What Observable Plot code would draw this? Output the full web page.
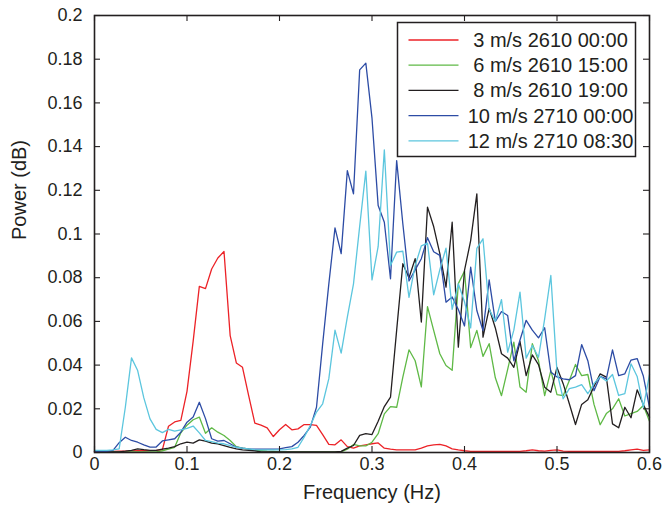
<!DOCTYPE html>
<html>
<head>
<meta charset="utf-8">
<script src="https://cdn.jsdelivr.net/npm/d3@7"></script>
<script src="https://cdn.jsdelivr.net/npm/@observablehq/plot@0.6"></script>
<style>
  html, body { margin: 0; padding: 0; background: #fff; }
  #chart { position: relative; width: 666px; height: 511px; }
</style>
</head>
<body>
<div id="chart"></div>
<script>
// Frequency bins (Hz): 0 .. 0.6 in steps of 1/150
const binCount = 91;
const binStep = 1 / 150;

const seriesNames = [
  "3 m/s 2610 00:00",
  "6 m/s 2610 15:00",
  "8 m/s 2610 19:00",
  "10 m/s 2710 00:00",
  "12 m/s 2710 08:30"
];
const seriesColors = ["#ec2227", "#5fb946", "#231f20", "#2d4ca5", "#5cc6de"];

const power3 = [
  0.0005,0.0005,0.0005,0.0005,0.0006,0.0006,0.0007,0.0008,0.0008,0.0009,
  0.001,0.0012,0.012,0.014,0.0147,0.028,0.051,0.076,0.075,0.084,
  0.089,0.092,0.0535,0.041,0.039,0.026,0.0134,0.0125,0.0113,0.0073,
  0.0104,0.0128,0.0104,0.0108,0.0128,0.0128,0.0124,0.0082,0.0037,0.0035,
  0.0058,0.0027,0.002,0.003,0.0035,0.004,0.0044,0.002,0.0015,0.0012,
  0.0012,0.0012,0.0012,0.002,0.003,0.0035,0.0037,0.003,0.0017,0.0012,
  0.0008,0.0005,0.0005,0.0005,0.0005,0.0005,0.0005,0.0005,0.0005,0.0005,
  0.0008,0.0012,0.0008,0.0006,0.001,0.0012,0.0006,0.0005,0.0005,0.0005,
  0.0005,0.0005,0.0005,0.0005,0.0005,0.0005,0.0008,0.0012,0.0015,0.001,
  0.0012
];
const power6 = [
  0.0003,0.0003,0.0003,0.0003,0.0003,0.0003,0.0003,0.0003,0.0003,0.0003,
  0.0003,0.0008,0.0015,0.0024,0.009,0.0125,0.015,0.0162,0.0088,0.0113,
  0.0093,0.0078,0.0055,0.0027,0.002,0.0015,0.001,0.0008,0.0006,0.0005,
  0.0003,0.0003,0.0003,0.0003,0.0003,0.0003,0.0003,0.0003,0.0003,0.0003,
  0.0003,0.0015,0.0037,0.003,0.003,0.0047,0.0086,0.0177,0.021,0.0207,
  0.0345,0.047,0.042,0.030,0.0668,0.0559,0.0452,0.0398,0.0376,0.0773,
  0.083,0.048,0.0559,0.044,0.0498,0.0342,0.026,0.038,0.0505,0.030,
  0.0276,0.0498,0.042,0.026,0.0375,0.0265,0.026,0.033,0.0403,0.0352,
  0.0357,0.022,0.0127,0.0178,0.020,0.0246,0.0167,0.0178,0.0188,0.0215,
  0.0143
];
const power8 = [
  0.0003,0.0003,0.0003,0.0003,0.0003,0.0006,0.001,0.0017,0.0013,0.001,
  0.001,0.0015,0.002,0.0027,0.004,0.0047,0.0043,0.0058,0.0052,0.0043,
  0.004,0.0032,0.0024,0.0017,0.0012,0.001,0.0008,0.0003,0.0003,0.0003,
  0.0003,0.0003,0.0003,0.0003,0.0003,0.0003,0.0003,0.0003,0.0003,0.0003,
  0.0005,0.002,0.0032,0.0078,0.0086,0.0082,0.0143,0.021,0.0253,0.056,
  0.0864,0.080,0.0887,0.0597,0.1123,0.1034,0.091,0.0757,0.1054,0.0482,
  0.0833,0.097,0.1184,0.0528,0.066,0.057,0.0452,0.0432,0.039,0.0508,
  0.0352,0.0447,0.0402,0.0299,0.0276,0.0389,0.0315,0.0223,0.0128,0.022,
  0.0241,0.0302,0.036,0.0345,0.0131,0.0113,0.0207,0.0159,0.0287,0.022,
  0.0162
];
const power10 = [
  0.0005,0.0005,0.0005,0.001,0.0045,0.007,0.0055,0.0047,0.0035,0.0025,
  0.0025,0.0053,0.0058,0.0063,0.0093,0.0139,0.0162,0.023,0.0155,0.0063,
  0.0052,0.0055,0.004,0.0024,0.002,0.0017,0.0015,0.0015,0.0015,0.0015,
  0.0017,0.0022,0.0027,0.0047,0.0078,0.0116,0.0207,0.0497,0.0772,0.1028,
  0.091,0.129,0.1184,0.1751,0.1782,0.153,0.113,0.1054,0.0795,0.1336,
  0.1047,0.0785,0.0836,0.0887,0.0983,0.0919,0.0902,0.0688,0.0712,0.0654,
  0.0579,0.0848,0.065,0.0558,0.079,0.06,0.0645,0.0627,0.042,0.0515,
  0.0605,0.056,0.0525,0.0571,0.0368,0.0346,0.0337,0.0333,0.0352,0.0494,
  0.042,0.0283,0.0348,0.0337,0.047,0.0352,0.036,0.0423,0.043,0.035,
  0.0207
];
const power12 = [
  0.001,0.001,0.001,0.0012,0.0017,0.0207,0.0433,0.0375,0.025,0.0154,
  0.0106,0.0091,0.0106,0.0098,0.0104,0.011,0.0121,0.009,0.0055,0.005,
  0.0043,0.004,0.0032,0.0024,0.002,0.0017,0.0013,0.0012,0.0012,0.0012,
  0.0012,0.0013,0.0017,0.0024,0.007,0.0124,0.0185,0.0223,0.0338,0.056,
  0.0455,0.062,0.0772,0.1035,0.1288,0.079,0.0943,0.1385,0.0856,0.0917,
  0.0921,0.071,0.0856,0.0946,0.0958,0.0722,0.0837,0.0935,0.0655,0.0772,
  0.069,0.057,0.0934,0.0978,0.0655,0.06,0.07,0.0459,0.056,0.0734,
  0.0432,0.049,0.0436,0.0612,0.081,0.0368,0.0246,0.0292,0.0299,0.0311,
  0.0269,0.0315,0.0348,0.0327,0.0357,0.0261,0.0269,0.0406,0.0348,0.0207,
  0.0357
];

const xTicks = [0, 0.1, 0.2, 0.3, 0.4, 0.5, 0.6];
const xTickLabels = ["0", "0.1", "0.2", "0.3", "0.4", "0.5", "0.6"];
const yTicks = [0, 0.02, 0.04, 0.06, 0.08, 0.1, 0.12, 0.14, 0.16, 0.18, 0.2];
const yTickLabels = ["0", "0.02", "0.04", "0.06", "0.08", "0.1", "0.12", "0.14", "0.16", "0.18", "0.2"];
const xLabel = "Frequency (Hz)";
const yLabel = "Power (dB)";

const allSeries = [power3, power6, power8, power10, power12];
const rows = [];
allSeries.forEach((vals, s) => {
  vals.forEach((v, i) => rows.push({series: seriesNames[s], f: i * binStep, p: v}));
});

const ink = "#231f20";
const fontFamily = "'Liberation Sans', Arial, Helvetica, sans-serif";
const W = 666, H = 511, mL = 94, mR = 17, mT = 15, mB = 59;
const plotW = W - mL - mR, plotH = H - mT - mB;
const tickLen = 6;

const svg = Plot.plot({
  width: W,
  height: H,
  marginLeft: mL,
  marginRight: mR,
  marginTop: mT,
  marginBottom: mB,
  style: {fontFamily, fontSize: "18px", color: ink, background: "white", overflow: "visible"},
  x: {domain: [0, 0.6], ticks: xTicks},
  y: {domain: [0, 0.2], ticks: yTicks},
  color: {domain: seriesNames, range: seriesColors},
  marks: [
    ...seriesNames.map((name, s) =>
      Plot.line(rows.filter(d => d.series === name), {x: "f", y: "p", stroke: seriesColors[s], strokeWidth: 1.3})
    ),
    // inward ticks on all four sides
    Plot.tickX(xTicks, {x: d => d, insetTop: plotH - tickLen, stroke: ink, strokeWidth: 1.1}),
    Plot.tickX(xTicks, {x: d => d, insetBottom: plotH - tickLen, stroke: ink, strokeWidth: 1.1}),
    Plot.tickY(yTicks, {y: d => d, insetRight: plotW - tickLen, stroke: ink, strokeWidth: 1.1}),
    Plot.tickY(yTicks, {y: d => d, insetLeft: plotW - tickLen, stroke: ink, strokeWidth: 1.1}),
    Plot.frame({stroke: ink, strokeWidth: 1.6}),
    Plot.axisX({ticks: xTicks, tickSize: 0, tickPadding: 5, tickFormat: (d, i) => xTickLabels[i], label: null, fill: ink, fontSize: 18}),
    Plot.axisY({ticks: yTicks, tickSize: 0, tickPadding: 12, tickFormat: (d, i) => yTickLabels[i], label: null, fill: ink, fontSize: 18}),
    Plot.text([xLabel], {frameAnchor: "bottom", dy: 46, fill: ink, fontSize: 20}),
    Plot.text([yLabel], {frameAnchor: "left", dx: -75, dy: 6, rotate: -90, fill: ink, fontSize: 20})
  ]
});

// Legend box inside the plot (top-right), drawn with d3
const lg = d3.select(svg).append("g").attr("font-family", fontFamily);
const lx = 397.5, ly = 22.5, lw = 238, lh = 134;
lg.append("rect").attr("x", lx).attr("y", ly).attr("width", lw).attr("height", lh)
  .attr("fill", "white").attr("stroke", ink).attr("stroke-width", 1.5);
seriesNames.forEach((name, k) => {
  const cy = ly + 17.5 + k * 25.2;
  lg.append("line").attr("x1", lx + 11).attr("x2", lx + 61).attr("y1", cy).attr("y2", cy)
    .attr("stroke", seriesColors[k]).attr("stroke-width", 1.3);
  lg.append("text").attr("x", lx + 153).attr("y", cy).attr("dy", "0.35em")
    .attr("text-anchor", "middle").attr("fill", ink).attr("font-size", 20).text(name);
});

document.getElementById("chart").appendChild(svg);
</script>
</body>
</html>
